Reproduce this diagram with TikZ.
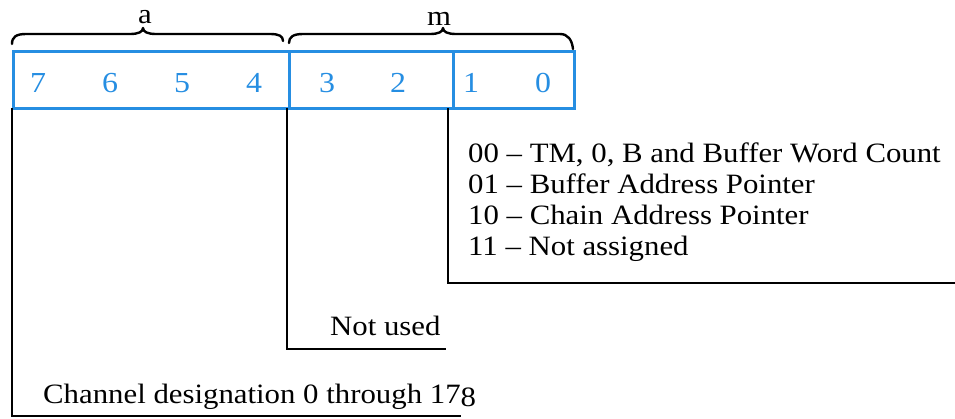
\documentclass[tikz,border=0pt]{standalone}
\usepackage{fontspec}
\setmainfont[FakeStretch=1.1]{Liberation Serif}
\definecolor{bitblue}{RGB}{38,142,226}
\begin{document}
\begin{tikzpicture}[x=1pt,y=-1pt,
  txt/.style={font=\fontsize{28}{31}\selectfont, inner sep=0pt, anchor=base west},
  bitnum/.style={font=\fontsize{29}{31}\selectfont, text=bitblue, inner sep=0pt, anchor=base},
  cell/.style={draw=bitblue, line width=2.8pt, inner sep=0pt, minimum height=57pt, anchor=north west},
  lead/.style={draw=black, line width=2.8pt, line cap=rect},
  bracepath/.style={draw=black, line width=2.4pt, line cap=round, line join=round},
  bracelabel/.style={font=\fontsize{28}{31}\selectfont, inner sep=0pt, anchor=base}]
\useasboundingbox (0,0) rectangle (955,418);

% register cells
\node[cell, minimum width=276pt] (fa) at (12,50) {};
\node[cell, minimum width=164pt] (fm1) at (288,50) {};
\node[cell, minimum width=121pt] (fm0) at (452,50) {};

% bit numbers
\foreach \b/\x in {7/38,6/110,5/182,4/254,3/327,2/398,1/471,0/543}
  \node[bitnum] (b\b) at (\x,92) {\b};

% field braces
\draw[bracepath] (12,44) .. controls (12,37) and (16,34) .. (26,34) -- (130,34)
  .. controls (138,34) and (143,32) .. (143,28)
  .. controls (143,32) and (148,34) .. (156,34) -- (270,34)
  .. controls (279,34) and (283,36) .. (283,41);
\draw[bracepath] (289,43) .. controls (289,37) and (293,34) .. (303,34) -- (430,34)
  .. controls (438,34) and (443,32) .. (443,28)
  .. controls (443,32) and (448,34) .. (456,34) -- (560,34)
  .. controls (568,34) and (572,40) .. (573,49);
\node[bracelabel] (la) at (145,23) {a};
\node[bracelabel] (lm) at (439,25) {m};

% leader lines
\coordinate (c7) at (12,416);
\coordinate (c7e) at (460,416);
\coordinate (c3) at (287,349);
\coordinate (c3e) at (445,349);
\coordinate (c1) at (448,283);
\coordinate (c1e) at (955,283);
\draw[lead] (fa.south west) -- (c7) -- (c7e);
\draw[lead] (fm1.south west) ++(-1,0) -- (c3) -- (c3e);
\draw[lead] (fm0.south west) ++(-4,0) -- (c1) -- (c1e);

% descriptions
\node[txt] (m00) at (468,162) {00 -- TM, 0, B and Buffer Word Count};
\node[txt] (m01) at (468,193) {01 -- Buffer Address Pointer};
\node[txt] (m10) at (468,224) {10 -- Chain Address Pointer};
\node[txt] (m11) at (468,255) {11 -- Not assigned};
\node[txt] (nu) at (330,335) {Not used};
\node[txt] (ch) at (43,403) {Channel designation 0 through 17\raisebox{-0.12em}{8}};
\end{tikzpicture}
\end{document}
